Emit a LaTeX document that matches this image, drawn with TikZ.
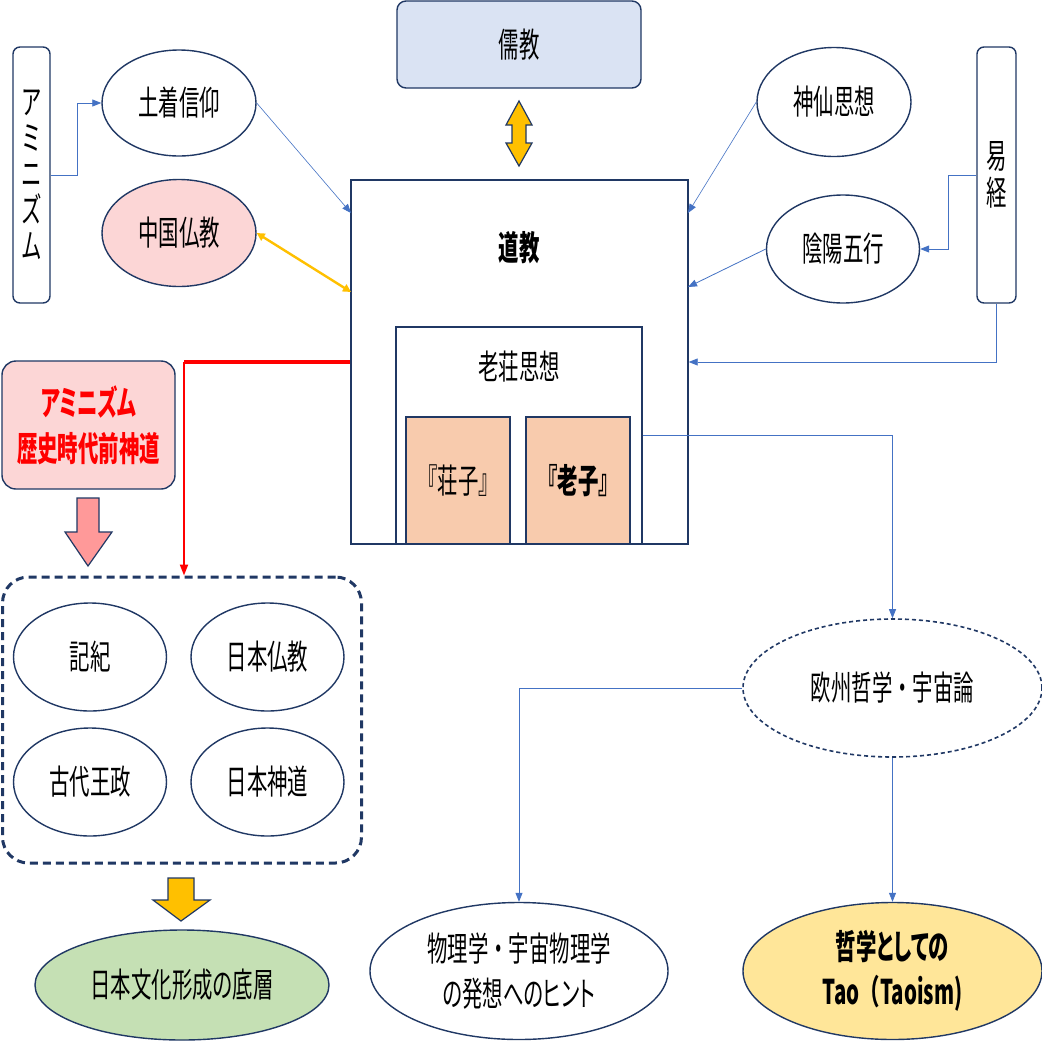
\documentclass[tikz,border=0pt]{standalone}
\usepackage{fontspec}
\usetikzlibrary{shapes.geometric,arrows.meta}
\newfontfamily\jpA[FakeStretch=0.6,RawFeature=+palt]{Noto Sans CJK JP}
\newfontfamily\jpN[FakeStretch=0.6]{Noto Sans CJK JP}
\definecolor{navy}{RGB}{32,56,100}
\definecolor{blueC}{RGB}{68,114,196}
\definecolor{goldC}{RGB}{255,192,0}
\definecolor{jukyoC}{RGB}{218,227,243}
\definecolor{peachC}{RGB}{248,203,173}
\definecolor{greenC}{RGB}{197,224,180}
\definecolor{ltyellowC}{RGB}{255,230,153}
\definecolor{pinkC}{RGB}{252,214,214}
\definecolor{pinkArrow}{RGB}{255,153,153}
\definecolor{redC}{RGB}{255,0,0}
\tikzset{
  jp/.style={font=\fontsize{34}{36}\selectfont\jpA},
  ell/.style={ellipse,draw=navy,line width=1.4pt,inner sep=0pt,jp},
  box/.style={rectangle,draw=navy,line width=1.4pt,inner sep=0pt,jp},
  rbox/.style={box,rounded corners=7pt},
  barrow/.style={draw=blueC,line width=0.8pt,-{Triangle[length=9pt,width=7pt]}},
  blockarrow/.style={draw=navy,line width=1.2pt,line join=miter},
}
\begin{document}
\begin{tikzpicture}[x=1pt,y=-1pt]
\useasboundingbox (0,0) rectangle (1042,1042);
\fill[white] (0,0) rectangle (1042,1042);

% left top
\node[rbox,minimum width=37pt,minimum height=256pt,align=center,
      font=\fontsize{34}{36}\selectfont\jpA] (ami) at (31.5,175) {ア\\ミ\\ニ\\ズ\\ム};
\node[ell,minimum width=154pt,minimum height=106pt] (dochaku) at (179,103) {土着信仰};
\node[ell,minimum width=154pt,minimum height=107pt,fill=pinkC] (chugoku) at (179,233) {中国仏教};

% top centre
\node[rbox,rounded corners=9pt,minimum width=244pt,minimum height=87pt,fill=jukyoC] (jukyo) at (519,44.5) {儒教};
\draw[blockarrow,fill=goldC] (519,101) -- (532,125) -- (526,125) -- (526,143) -- (532,143)
   -- (519,166) -- (506,143) -- (512,143) -- (512,125) -- (506,125) -- cycle;

% Taoism box
\node[box,minimum width=337pt,minimum height=364pt] (dao) at (519.5,362) {};
\node[jp,font=\fontsize{34}{36}\selectfont\jpA\bfseries] (daotext) at (519,248) {道教};
\node[box,minimum width=246pt,minimum height=217pt] (roso) at (519,435.5) {};
\node[jp] (rosotext) at (519,367) {老荘思想};
\node[box,minimum width=104pt,minimum height=127pt,fill=peachC] (soshi) at (458,480.5) {『荘子』};
\node[box,minimum width=104pt,minimum height=127pt,fill=peachC,
      font=\fontsize{34}{36}\selectfont\jpA\bfseries] (roshi) at (578,480.5) {『老子』};

% right top
\node[ell,minimum width=154pt,minimum height=109pt] (shinsen) at (834,102) {神仙思想};
\node[ell,minimum width=153pt,minimum height=108pt] (inyo) at (843,249) {陰陽五行};
\node[rbox,minimum width=39pt,minimum height=256pt,align=center,
      font=\fontsize{34}{37}\selectfont\jpA] (eki) at (996.5,175) {易\\経};

% coordinates on Taoism box
\coordinate (dL1) at (351,213);
\coordinate (dL2) at (351,292);
\coordinate (dR1) at (688,213);
\coordinate (dR2) at (688,287);
\coordinate (redc) at (184,362);

% connectors top
\draw[barrow] (ami.east) -- ++(27,0) |- (dochaku.west);
\draw[barrow,line width=0.6pt] (dochaku.east) -- (dL1);
\draw[draw=goldC,line width=2.4pt,{Triangle[length=8pt,width=8pt]}-{Triangle[length=8pt,width=8pt]}]
   (chugoku.east) -- (dL2);
\draw[barrow,line width=0.6pt] (shinsen.west) -- (dR1);
\draw[barrow] (inyo.west) -- (dR2);
\draw[barrow] (eki.west) -- ++(-28,0) |- (inyo.east);
\draw[barrow] (eki.south) |- (dao.east);

% left middle
\node[rbox,rounded corners=14pt,minimum width=173pt,minimum height=128pt,fill=pinkC,align=center,
      font=\fontsize{34}{46}\selectfont\jpA\bfseries,text=redC] (amired) at (88.5,425) {アミニズム\\歴史時代前神道};
\draw[blockarrow,fill=pinkArrow] (77,498) -- (99,498) -- (99,532) -- (112,532) -- (88,566)
   -- (65,532) -- (77,532) -- cycle;

\node[draw=navy,line width=3pt,dash pattern=on 8pt off 5pt,rounded corners=26pt,
      minimum width=359pt,minimum height=286pt,inner sep=0pt] (grp) at (182,720) {};
\node[ell,minimum width=153pt,minimum height=108pt] (kiki) at (90,657) {記紀};
\node[ell,minimum width=153pt,minimum height=108pt] (nbuk) at (267.5,657) {日本仏教};
\node[ell,minimum width=153pt,minimum height=108pt] (kodai) at (90,782) {古代王政};
\node[ell,minimum width=153pt,minimum height=108pt] (nshin) at (267.5,782) {日本神道};

% red connector
\draw[draw=redC,line width=3.5pt] (dao.west) -- (redc);
\draw[draw=redC,line width=2pt,-{Triangle[length=11pt,width=8pt]}] (redc) -- (redc |- grp.north);

\draw[blockarrow,fill=goldC] (168,878) -- (194,878) -- (194,900) -- (210,900) -- (181,921)
   -- (153,900) -- (168,900) -- cycle;
\node[ell,minimum width=294pt,minimum height=110pt,fill=greenC] (bunka) at (182,985) {日本文化形成の底層};

% right bottom
\node[ell,dash pattern=on 4pt off 3pt,line width=1.6pt,minimum width=299pt,minimum height=138pt] (oshu) at (892.5,688) {欧州哲学{\jpN ・}宇宙論};
\node[ell,minimum width=298pt,minimum height=137pt,align=center,
      font=\fontsize{34}{45}\selectfont\jpA] (butsuri) at (519,971) {物理学{\jpN ・}宇宙物理学\\の発想へのヒント};
\node[ell,minimum width=299pt,minimum height=137pt,fill=ltyellowC,align=center,
      font=\fontsize{34}{45}\selectfont\jpA\bfseries] (tao) at (892.5,971) {哲学としての\\Tao{\jpN （}Taoism)};

\draw[barrow] (roso.east) -| (oshu.north);
\draw[barrow] (oshu.west) -| (butsuri.north);
\draw[barrow] (oshu.south) -- (tao.north);
\end{tikzpicture}
\end{document}
